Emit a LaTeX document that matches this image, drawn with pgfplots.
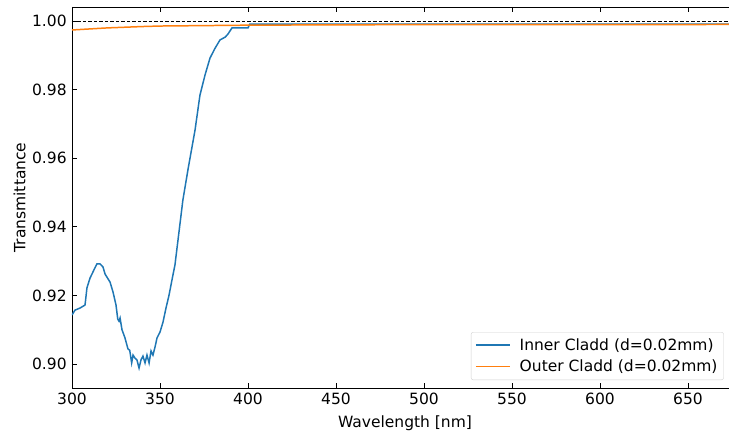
\documentclass[border=0pt]{standalone}
\usepackage{pgfplots}
\pgfplotsset{compat=1.18}
\usepackage{fontspec}
\setmainfont{DejaVu Sans}
\definecolor{c0}{HTML}{1F77B4}
\definecolor{c1}{HTML}{FF7F0E}
\newcommand{\fs}{\fontsize{15.5bp}{18bp}\selectfont}
\begin{document}
\fs
\begin{tikzpicture}
\path[use as bounding box] (-72bp,-44bp) rectangle (657bp,388bp);
\begin{axis}[
  at={(0,0)}, anchor=south west,
  scale only axis, width=666bp, height=381bp,
  xmin=300, xmax=678.4, ymin=0.893, ymax=1.0041,
  xtick={300,350,...,650}, ytick={0.90,0.92,...,1.001},
  tick align=inside, major tick length=4.9bp,
  tick style={line width=0.8pt, black},
  axis line style={line width=0.8pt},
  /pgf/number format/assume math mode=true,
  yticklabel style={/pgf/number format/fixed, /pgf/number format/fixed zerofill, /pgf/number format/precision=2, font=\fs},
  xticklabel style={font=\fs},
  scaled y ticks=false,
  xlabel={Wavelength [nm]}, ylabel={Transmittance},
  ylabel shift=-4bp,
  label style={font=\fs},
  legend cell align=left,
  legend style={at={(0.599,0.021)}, anchor=south west, draw=black!18, rounded corners=2pt, fill=white, font=\fs, row sep=3.4pt, column sep=7bp, inner sep=4pt},
  legend image code/.code={\draw[#1] (0cm,0.3bp) -- (1.2cm,0.3bp);},
]
\addlegendimage{c0, line width=1.6pt}
\addlegendentry{Inner Cladd (d=0.02mm)}
\addlegendimage{c1, line width=1.6pt}
\addlegendentry{Outer Cladd (d=0.02mm)}
\addplot[c0, line width=1.5pt, forget plot] coordinates {
(300,0.9143) (301.7,0.9157) (304.5,0.9163) (307.4,0.9172) (308.5,0.9222) (310.2,0.9250)
(313,0.9280) (314.2,0.9292) (315.9,0.9292) (317.6,0.9283) (318.8,0.9262) (321.6,0.9239)
(323.3,0.9210) (325,0.9172) (326,0.9131) (326.7,0.9125) (327.3,0.9134) (328.4,0.9100)
(330.1,0.9076) (331.8,0.9044) (332.8,0.9040) (333.9,0.9003) (334.7,0.9026) (335.8,0.9017)
(336.9,0.9012) (338.1,0.8988) (339.2,0.9012) (340.3,0.9023) (341.5,0.9003) (342.6,0.9026)
(343.8,0.9003) (344.9,0.9038) (346,0.9026) (347.2,0.9050) (348.3,0.9076) (350,0.9093)
(351.7,0.9122) (353.4,0.9163) (355.1,0.9200) (356.8,0.9245) (358.5,0.9289) (363,0.9478)
(366,0.9570) (369.9,0.9682) (372.7,0.9784) (375.6,0.9843) (378.4,0.9892) (381.3,0.9921)
(384.1,0.9945) (387,0.9953) (388.6,0.9962) (390.9,0.9980) (400,0.9980) (401,0.9991)
(678.4,0.9991)
};
\addplot[c1, line width=1.5pt, forget plot] coordinates {
(300,0.9974) (310,0.9977) (320,0.9980) (330,0.9982) (340,0.9984) (350,0.99855)
(360,0.9986) (380,0.9987) (400,0.9988) (450,0.9989) (500,0.99895) (678.4,0.9990)
};
\addplot[black, line width=0.7pt, dash pattern=on 3.5pt off 2pt, forget plot] coordinates {(300,1) (678.4,1)};
\end{axis}
\end{tikzpicture}
\end{document}
